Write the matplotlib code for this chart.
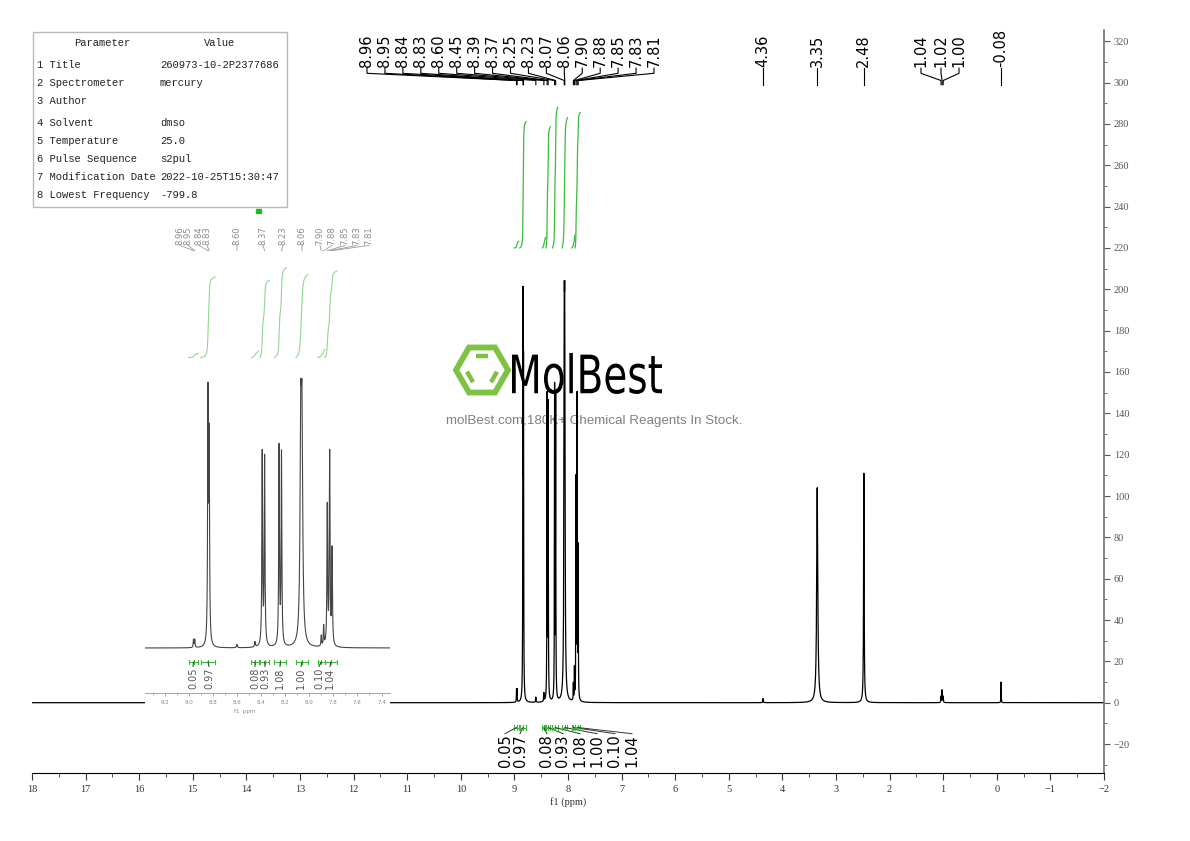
import numpy as np
import matplotlib
matplotlib.use("Agg")
import matplotlib.pyplot as plt
from matplotlib.ticker import MultipleLocator, FormatStrFormatter
from matplotlib.patches import PathPatch, Polygon, Rectangle
from matplotlib.textpath import TextPath
from matplotlib.font_manager import FontProperties
from matplotlib.transforms import Affine2D

# ---- data ----
peak_ppm = [8.96, 8.95, 8.84, 8.83, 8.60, 8.45, 8.39, 8.37, 8.25, 8.23, 8.07, 8.06,
            7.90, 7.88, 7.85, 7.83, 7.81, 4.36, 3.35, 2.48, 1.04, 1.02, 1.00, -0.08]
peak_height = [6, 6, 185, 150, 2.5, 4, 146, 142, 150, 145, 150, 150,
               8, 15, 105, 145, 72, 2, 104, 111, 3, 6, 3, 10]
peak_width = [0.003, 0.003, 0.0035, 0.0035, 0.004, 0.004, 0.0035, 0.0035, 0.0035, 0.0035, 0.007, 0.007,
              0.003, 0.003, 0.0035, 0.0035, 0.0035, 0.005, 0.012, 0.006, 0.004, 0.004, 0.004, 0.003]

inset_labels = [8.96, 8.95, 8.84, 8.83, 8.60, 8.37, 8.23, 8.06, 7.90, 7.88, 7.85, 7.83, 7.81]

int_hi = [9.00, 8.90, 8.48, 8.41, 8.29, 8.11, 7.93, 7.87]
int_lo = [8.92, 8.78, 8.42, 8.33, 8.19, 8.01, 7.87, 7.77]
int_val = [0.05, 0.97, 0.08, 0.93, 1.08, 1.00, 0.10, 1.04]

param_names = ["1 Title", "2 Spectrometer", "3 Author", "4 Solvent", "5 Temperature",
               "6 Pulse Sequence", "7 Modification Date", "8 Lowest Frequency"]
param_values = ["260973-10-2P2377686", "mercury", "", "dmso", "25.0",
                "s2pul", "2022-10-25T15:30:47", "-799.8"]

# ---- layout (pixels of the 1190x841 picture) ----
W, H = 1190, 841
M_L, M_R, M_T, M_B = 32, 1104, 30, 773
I_L, I_R, I_T, I_B = 145, 390, 214, 720
xmain = (18, -2)
ymain = (-(M_B - 702.7) / 2.067, (702.7 - M_T) / 2.067)
xin = (8.84 + (208 - I_L) / 120.5, 8.84 - (I_R - 208) / 120.5)
yin = (-(I_B - 648) / 1.32, (648 - I_T) / 1.32)


def main_ppm(px):
    return xmain[0] + (px - M_L) / (M_R - M_L) * (xmain[1] - xmain[0])


def inset_ppm(px):
    return xin[0] + (px - I_L) / (I_R - I_L) * (xin[1] - xin[0])


def spectrum(x):
    y = np.zeros_like(x)
    for p, h, w in zip(peak_ppm, peak_height, peak_width):
        y += h / (1 + ((x - p) / w) ** 2)
    return y


serif = "Liberation Serif"
mono = "Liberation Mono"
green = "#3cb83c"

fig = plt.figure(figsize=(W / 100, H / 100), dpi=100)

# background layer in pixel coordinates
bg = fig.add_axes([0, 0, 1, 1], zorder=0)
bg.set_xlim(0, W)
bg.set_ylim(H, 0)
bg.axis("off")

# parameter table
bg.add_patch(Rectangle((33, 32), 254, 175, fill=False, ec="#b8b8b8", lw=1))
bg.text(102, 43, "Parameter", ha="center", va="center", family=mono, fontsize=7.6, color="#222")
bg.text(220, 43, "Value", ha="center", va="center", family=mono, fontsize=7.6, color="#222")
row_y = [65, 83, 101, 123, 141, 159, 177, 195]
for ry, n, v in zip(row_y, param_names, param_values):
    bg.text(37, ry, n, ha="left", va="center", family=mono, fontsize=7.6, color="#222")
    bg.text(160, ry, v, ha="left", va="center", family=mono, fontsize=7.6, color="#222")
bg.add_patch(Rectangle((255.5, 208.5), 5, 5, color="#22bb22"))

# watermark
cx, cy, r = 482, 370, 26
ang = np.radians(np.arange(0, 360, 60))
bg.add_patch(Polygon(np.c_[cx + r * np.cos(ang), cy - r * np.sin(ang)], closed=True,
                     fill=False, ec="#7dc242", lw=4.2, joinstyle="miter"))
ri = 16
for a0, a1 in [(60, 120), (180, 240), (300, 360)]:
    p0 = np.array([cx + ri * np.cos(np.radians(a0)), cy - ri * np.sin(np.radians(a0))])
    p1 = np.array([cx + ri * np.cos(np.radians(a1)), cy - ri * np.sin(np.radians(a1))])
    q0, q1 = p0 + 0.12 * (p1 - p0), p1 - 0.12 * (p1 - p0)
    bg.plot([q0[0], q1[0]], [q0[1], q1[1]], color="#7dc242", lw=3.2, solid_capstyle="butt")
tp = TextPath((0, 0), "MolBest", size=1, prop=FontProperties(family="DejaVu Sans"))
ext = tp.get_extents()
tr = Affine2D().translate(-ext.x0, -ext.y0).scale(150 / ext.width, -41 / ext.height).translate(512, 394)
bg.add_patch(PathPatch(tr.transform_path(tp), color="black", lw=0))
bg.text(594, 421, "molBest.com,180K+ Chemical Reagents In Stock.", ha="center", va="center",
        family="Liberation Sans", fontsize=9.6, color="#808080")

# ---- main spectrum ----
ax = fig.add_axes([M_L / W, 1 - M_B / H, (M_R - M_L) / W, (M_B - M_T) / H], zorder=1)
ax.set_facecolor("none")
x = np.linspace(-2, 18, 60001)
ax.plot(x, spectrum(x), color="black", lw=0.9)
ax.set_xlim(*xmain)
ax.set_ylim(*ymain)
for s in ["top", "left"]:
    ax.spines[s].set_visible(False)
ax.spines["right"].set_color("#707070")
ax.spines["right"].set_linewidth(1.2)
ax.yaxis.tick_right()
ax.xaxis.set_minor_locator(MultipleLocator(0.5))
ax.yaxis.set_major_locator(MultipleLocator(20))
ax.yaxis.set_minor_locator(MultipleLocator(10))
ax.tick_params(axis="x", which="major", length=5, labelsize=7.5, pad=4, colors="#333")
ax.tick_params(axis="x", which="minor", length=3, colors="#333")
ax.tick_params(axis="y", which="major", length=4, labelsize=7.5, pad=3, colors="#555")
ax.tick_params(axis="y", which="minor", length=2.5, colors="#555")
xt = np.arange(-2, 19, 1)
ax.set_xticks(xt)
ax.set_xticklabels([str(int(v)).replace("-", "\u2212") for v in xt], family=serif)
for lab in ax.get_yticklabels():
    lab.set_family(serif)
fig.text(568 / W, 1 - 802 / H, "f1 (ppm)", ha="center", va="center", family=serif, fontsize=7.5, color="#333")

# main peak labels
lab_x = list(np.linspace(main_ppm(367), main_ppm(654), 17))
lab_x += [4.36, 3.35, 2.48, main_ppm(921), main_ppm(941), main_ppm(959), -0.08]
for lx, p in zip(lab_x, peak_ppm):
    ax.text(lx, 307.5, f"{p:.2f}", rotation=90, ha="center", va="bottom", fontsize=10.5,
            family="DejaVu Sans", clip_on=False)
    ax.plot([lx, lx, p, p], [307, 304.5, 301, 299], color="black", lw=0.8, clip_on=False)

# integrals
int_lab_x = [main_ppm(v) for v in [505, 520, 547, 563, 580, 597, 615, 632]]


def draw_integrals(a, lab_pos, ybr, ylab, fs, col_txt, col_int, lw_int):
    for hi, lo, val, lx in zip(int_hi, int_lo, int_val, lab_pos):
        xs = np.linspace(hi, lo, 400)
        c = np.cumsum(spectrum(xs))
        a.plot(xs, 220 + 63 * val * c / c[-1], color=col_int, lw=lw_int)
        a.plot([hi, lo], [ybr, ybr], color=green, lw=0.8, clip_on=False)
        for e in (hi, lo, (hi + lo) / 2):
            a.plot([e, e], [ybr - 1.2, ybr + 1.2], color=green, lw=0.8, clip_on=False)
        a.plot([(hi + lo) / 2, lx], [ybr, ylab + 0.5], color="#333", lw=0.7, clip_on=False)
        a.text(lx, ylab, f"{val:.2f}", rotation=90, ha="center", va="top", fontsize=fs,
               family="DejaVu Sans", color=col_txt, clip_on=False)


draw_integrals(ax, int_lab_x, -12, -15.5, 10.5, "black", green, 0.9)

# ---- inset ----
axi = fig.add_axes([I_L / W, 1 - I_B / H, (I_R - I_L) / W, (I_B - I_T) / H], zorder=2)
axi.set_facecolor("white")
xi = np.linspace(xin[1], xin[0], 8000)
axi.plot(xi, spectrum(xi), color="#444", lw=0.8)
axi.set_xlim(*xin)
axi.set_ylim(*yin)
for s in ["top", "left", "right"]:
    axi.spines[s].set_visible(False)
axi.spines["bottom"].set_position(("data", -34))
axi.spines["bottom"].set_color("#999")
axi.spines["bottom"].set_linewidth(0.6)
axi.set_yticks([])
axi.xaxis.set_major_locator(MultipleLocator(0.2))
axi.xaxis.set_minor_locator(MultipleLocator(0.1))
axi.xaxis.set_major_formatter(FormatStrFormatter("%.1f"))
axi.tick_params(axis="x", which="major", length=2, labelsize=4, pad=3, colors="#888", width=0.5)
axi.tick_params(axis="x", which="minor", length=1.5, colors="#888", width=0.5)
axi.text(inset_ppm(245), -48, "f1  ppm", ha="center", va="center", fontsize=4, color="#888")

in_lab_px = [180, 188, 199, 207, 237, 263, 283, 302, 320, 332, 345, 357, 369]
for px, p in zip(in_lab_px, inset_labels):
    lx = inset_ppm(px)
    axi.text(lx, 305.5, f"{p:.2f}", rotation=90, ha="center", va="bottom", fontsize=6,
             family="DejaVu Sans", color="#8a8a8a", clip_on=False)
    axi.plot([lx, p], [305, 301], color="#999", lw=0.6, clip_on=False)

in_int_px = [193, 209, 255, 265, 280, 301, 319, 330]
draw_integrals(axi, [inset_ppm(v) for v in in_int_px], -10.6, -14.5, 7, "#555", "#8fd88f", 0.8)

fig.savefig("out.png", dpi=100)
